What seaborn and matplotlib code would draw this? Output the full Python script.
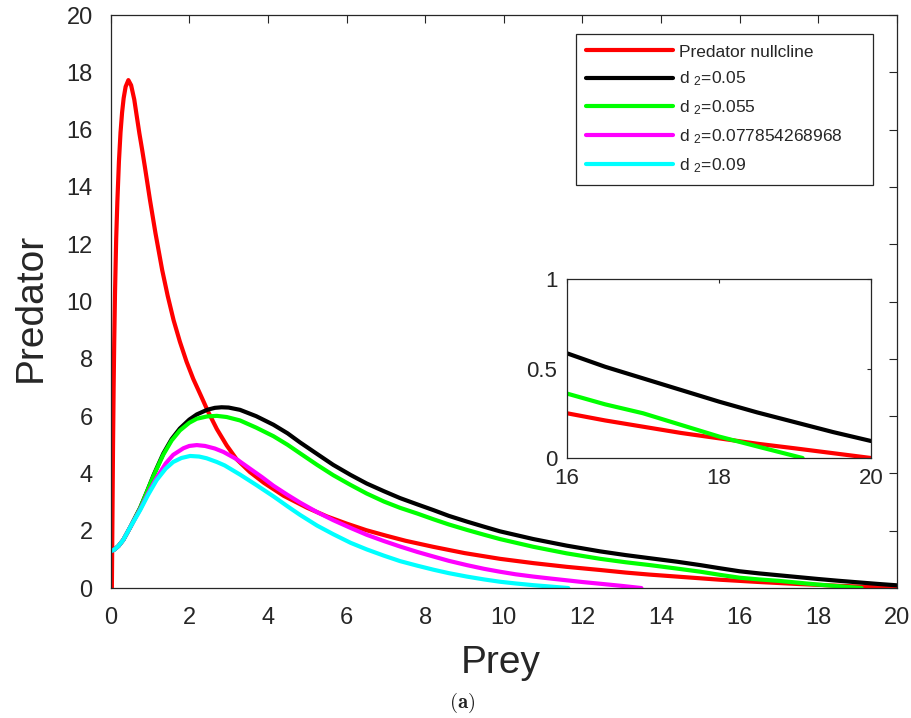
import numpy as np
import pandas as pd
import matplotlib
matplotlib.use("Agg")
import matplotlib.pyplot as plt
import seaborn as sns

# ---------------- data ----------------
red_x = [0.03, 0.045, 0.06, 0.075, 0.09, 0.11, 0.14, 0.17, 0.21, 0.25, 0.29, 0.33, 0.38,
         0.45, 0.52, 0.60, 0.66, 0.73, 0.80, 0.87, 1.00, 1.14, 1.31, 1.45, 1.60, 1.76,
         1.93, 2.10, 2.30, 2.48, 2.70, 2.95, 3.20, 3.54, 3.90, 4.40, 5.00, 5.50, 6.00,
         6.50, 7.00, 7.50, 8.20, 9.00, 9.90, 10.75, 11.60, 12.45, 13.10, 13.70, 14.40,
         15.00, 15.50, 16.00, 16.50, 17.00, 17.50, 18.00, 18.50, 19.00, 19.50, 20.00]
red_y = [0.0, 2.5, 5.0, 7.0, 8.6, 10.3, 12.2, 13.5, 14.9, 15.9, 16.6, 17.1, 17.5,
         17.73, 17.55, 17.05, 16.5, 15.87, 15.3, 14.7, 13.54, 12.38, 11.1, 10.2, 9.35, 8.6,
         7.9, 7.3, 6.7, 6.15, 5.55, 4.98, 4.5, 4.05, 3.67, 3.22, 2.8, 2.5, 2.25,
         2.02, 1.83, 1.65, 1.44, 1.22, 1.02, 0.87, 0.74, 0.63, 0.54, 0.47, 0.40,
         0.34, 0.29, 0.25, 0.21, 0.175, 0.14, 0.11, 0.08, 0.054, 0.027, 0.0]

black_x = [0.03, 0.1, 0.2, 0.32, 0.5, 0.75, 0.92, 1.1, 1.34, 1.55, 1.76, 2.0, 2.19, 2.45,
           2.65, 2.82, 3.0, 3.29, 3.7, 4.14, 4.5, 4.82, 5.25, 5.66, 6.1, 6.51, 6.95, 7.36,
           7.8, 8.21, 8.6, 9.06, 9.5, 9.9, 10.75, 11.6, 12.45, 13.1, 13.72, 14.4, 15.0,
           15.5, 16.0, 16.5, 17.0, 17.5, 18.0, 18.5, 19.0, 19.5, 20.0]
black_y = [1.3, 1.35, 1.47, 1.68, 2.13, 2.8, 3.36, 3.97, 4.7, 5.2, 5.57, 5.88, 6.06, 6.22,
           6.29, 6.31, 6.3, 6.22, 6.0, 5.7, 5.4, 5.08, 4.68, 4.3, 3.95, 3.65, 3.38, 3.14,
           2.92, 2.72, 2.52, 2.32, 2.14, 1.98, 1.71, 1.48, 1.28, 1.15, 1.04, 0.92, 0.80,
           0.69, 0.585, 0.51, 0.445, 0.38, 0.315, 0.255, 0.20, 0.145, 0.095]

green_x = [0.03, 0.1, 0.2, 0.32, 0.5, 0.75, 0.92, 1.1, 1.34, 1.55, 1.76, 2.0, 2.19, 2.45,
           2.7, 2.95, 3.29, 3.7, 4.14, 4.5, 4.82, 5.25, 5.66, 6.1, 6.51, 6.95, 7.36, 7.8,
           8.21, 8.6, 9.06, 9.5, 9.9, 10.75, 11.6, 12.45, 13.1, 13.72, 14.4, 15.0, 15.5,
           16.0, 16.5, 17.0, 17.5, 18.0, 18.5, 19.1]
green_y = [1.3, 1.35, 1.47, 1.68, 2.13, 2.8, 3.35, 3.95, 4.66, 5.15, 5.5, 5.77, 5.91, 5.99,
           6.01, 5.97, 5.85, 5.6, 5.3, 5.0, 4.7, 4.3, 3.94, 3.6, 3.3, 3.02, 2.8, 2.6,
           2.40, 2.22, 2.03, 1.86, 1.71, 1.44, 1.21, 1.02, 0.90, 0.80, 0.68, 0.57, 0.46,
           0.36, 0.30, 0.25, 0.185, 0.12, 0.065, 0.0]

magenta_x = [0.03, 0.1, 0.2, 0.32, 0.5, 0.75, 0.95, 1.17, 1.4, 1.59, 1.85, 2.0, 2.19, 2.4,
             2.65, 2.87, 3.2, 3.54, 3.85, 4.14, 4.5, 4.82, 5.25, 5.66, 6.1, 6.51, 6.95,
             7.36, 7.8, 8.21, 8.6, 9.06, 9.5, 9.9, 10.3, 10.75, 11.2, 11.6, 12.0, 12.45,
             13.0, 13.5]
magenta_y = [1.3, 1.35, 1.47, 1.68, 2.13, 2.75, 3.3, 3.85, 4.35, 4.65, 4.88, 4.96, 4.99, 4.96,
             4.87, 4.75, 4.5, 4.17, 3.87, 3.57, 3.25, 2.98, 2.65, 2.37, 2.1, 1.86, 1.64,
             1.45, 1.26, 1.1, 0.95, 0.8, 0.67, 0.57, 0.48, 0.40, 0.33, 0.27, 0.21, 0.15,
             0.075, 0.0]

cyan_x = [0.03, 0.1, 0.2, 0.32, 0.5, 0.75, 0.95, 1.17, 1.4, 1.59, 1.8, 2.02, 2.25, 2.44,
          2.7, 2.9, 3.29, 3.7, 4.14, 4.5, 4.82, 5.25, 5.66, 6.1, 6.51, 6.95, 7.36, 7.8,
          8.21, 8.6, 9.06, 9.5, 9.9, 10.3, 10.75, 11.2, 11.64]
cyan_y = [1.3, 1.35, 1.47, 1.68, 2.13, 2.72, 3.25, 3.77, 4.17, 4.4, 4.54, 4.61, 4.59, 4.53,
          4.4, 4.28, 3.96, 3.6, 3.2, 2.85, 2.55, 2.18, 1.88, 1.58, 1.35, 1.13, 0.94, 0.78,
          0.64, 0.52, 0.40, 0.30, 0.22, 0.16, 0.10, 0.05, 0.0]

labels = ["Predator nullcline", "d $_2$=0.05", "d $_2$=0.055",
          "d $_2$=0.077854268968", "d $_2$=0.09"]
colors = ["#FF0000", "#000000", "#00FF00", "#FF00FF", "#00FFFF"]
main_ticks = [0, 2, 4, 6, 8, 10, 12, 14, 16, 18, 20]
inset_xticks = [16, 18, 20]
inset_yticks = [0, 0.5, 1]
inset_ytick_labels = ["0", "0.5", "1"]

series = [(red_x, red_y), (black_x, black_y), (green_x, green_y),
          (magenta_x, magenta_y), (cyan_x, cyan_y)]

# ---------------- style ----------------
sns.set_style("white")
plt.rcParams["font.family"] = ["Liberation Sans", "DejaVu Sans"]
plt.rcParams["mathtext.fontset"] = "custom"
plt.rcParams["mathtext.rm"] = "Liberation Sans"
plt.rcParams["mathtext.it"] = "Liberation Sans"
plt.rcParams["mathtext.default"] = "rm"

axcol = "#262626"
fig = plt.figure(figsize=(9.11, 7.18), dpi=100)
ax = fig.add_axes([0.1215, 0.181, 0.8631, 0.798])

for (xs, ys), lab, col in zip(series, labels, colors):
    df = pd.DataFrame({"x": xs, "y": ys})
    sns.lineplot(data=df, x="x", y="y", ax=ax, color=col, lw=3, label=lab,
                 sort=False, estimator=None)

ax.set_xlim(0, 20)
ax.set_ylim(0, 20)
ax.set_xticks(main_ticks)
ax.set_yticks(main_ticks)
ax.set_xlabel("Prey", fontsize=28, color=axcol)
ax.set_ylabel("Predator", fontsize=28, color=axcol)
ax.xaxis.set_label_coords(0.496, -0.099)
ax.yaxis.set_label_coords(-0.079, 0.489)
ax.tick_params(direction="in", length=6, width=0.8, colors=axcol, labelsize=17,
               top=True, right=True)
ax.tick_params(axis="x", pad=14)
ax.tick_params(axis="y", pad=13)
for s in ax.spines.values():
    s.set_color(axcol)
    s.set_linewidth(0.9)

leg = ax.legend(loc="upper left", bbox_to_anchor=(0.6319, 0.75, 0.3267, 0.20265),
                bbox_transform=fig.transFigure, mode="expand", borderaxespad=0,
                fontsize=12.5, handlelength=5.0, handletextpad=0.38, labelspacing=0.58,
                borderpad=0.6, fancybox=False, framealpha=1)
leg.get_frame().set_edgecolor(axcol)
leg.get_frame().set_linewidth(0.9)
for line in leg.get_lines():
    line.set_linewidth(3)

# ---------------- inset ----------------
ins = fig.add_axes([0.6224, 0.3621, 0.3337, 0.2493])
for (xs, ys), col in zip(series[:3], colors[:3]):
    df = pd.DataFrame({"x": xs, "y": ys})
    sns.lineplot(data=df, x="x", y="y", ax=ins, color=col, lw=3, sort=False,
                 estimator=None, legend=False)
ins.set_xlim(16, 20)
ins.set_ylim(0, 1)
ins.set_xticks(inset_xticks)
ins.set_yticks(inset_yticks)
ins.set_yticklabels(inset_ytick_labels)
ins.set_xlabel("")
ins.set_ylabel("")
ins.tick_params(direction="in", length=3, width=0.8, colors=axcol, labelsize=16,
                top=True, right=True, pad=7)
for s in ins.spines.values():
    s.set_color(axcol)
    s.set_linewidth(0.9)

fig.text(462 / 911, 1 - 703 / 718, r"$\mathbf{(a)}$", math_fontfamily="cm",
         fontsize=15, ha="center", va="center", color="#222222")

fig.savefig("out.png", dpi=100)
